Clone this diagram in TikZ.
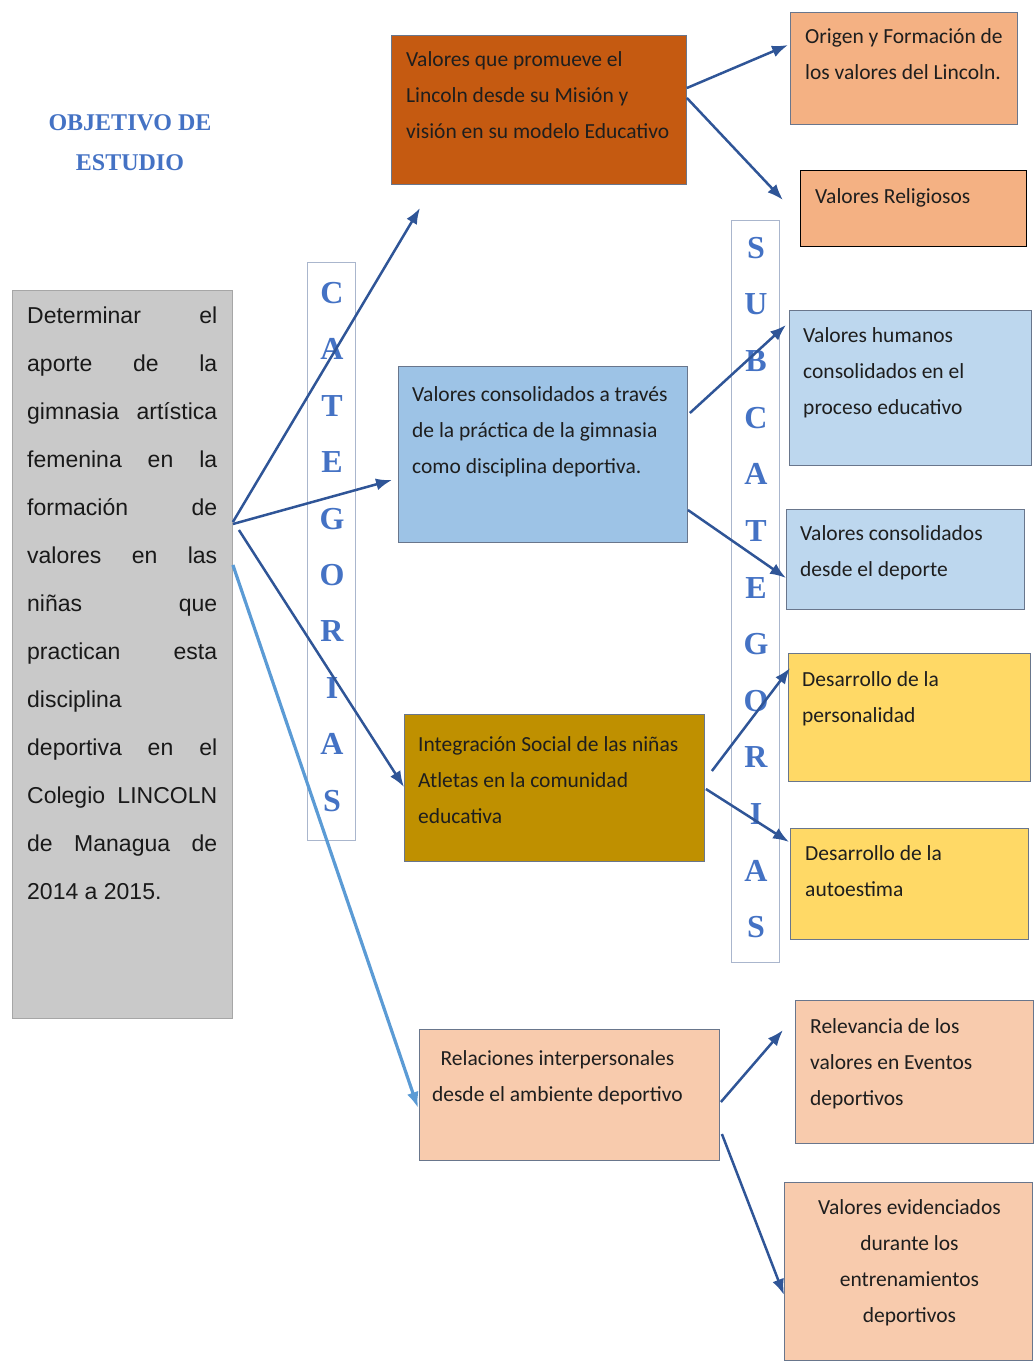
\documentclass[tikz,border=0pt]{standalone}
\usepackage{fontspec}
\usepackage{xcolor}
\usepackage{tikz}
\usetikzlibrary{positioning,arrows.meta}
\setmainfont{Carlito}
\newfontfamily\arialfont{Liberation Sans}
\newfontfamily\letrafont{Liberation Serif}
\definecolor{naranjaosc}{RGB}{197, 90, 17}
\definecolor{azulcaja}{RGB}{157, 195, 230}
\definecolor{azulpalido}{RGB}{189, 215, 238}
\definecolor{dorado}{RGB}{191, 144, 0}
\definecolor{durazno}{RGB}{248, 203, 173}
\definecolor{naranjaclaro}{RGB}{244, 177, 131}
\definecolor{amarillo}{RGB}{255, 217, 102}
\definecolor{grisfondo}{RGB}{201, 201, 201}
\definecolor{azultitulo}{RGB}{68, 114, 196}
\definecolor{azulflecha}{RGB}{47, 85, 151}
\definecolor{azulceleste}{RGB}{91, 155, 213}
\definecolor{bordecaja}{RGB}{105, 118, 140}
\definecolor{bordemarco}{RGB}{170, 182, 205}
\definecolor{textoosc}{RGB}{30, 30, 30}
\newcommand{\renglon}[1]{\makebox[190pt][s]{#1}}

\begin{document}
\begin{tikzpicture}[x=1pt, y=-1pt,
    caja/.style={draw=bordecaja, line width=0.9pt, anchor=north west, inner sep=0pt},
    texto/.style={anchor=north west, inner sep=0pt, align=left, text=textoosc, font=\fontsize{21.5}{36}\selectfont},
    letra/.style={text=azultitulo, inner sep=0pt, font=\letrafont\bfseries\fontsize{32}{32}\selectfont},
    marco/.style={draw=bordemarco, line width=0.7pt, anchor=north west, minimum width=48, minimum height=#1},
    flecha/.style={draw=azulflecha, line width=2.5pt, -{Latex[length=16pt,width=12pt]}}
  ]
  \useasboundingbox (0,0) rectangle (1034,1367);

  \node[text=azultitulo, align=center, font=\letrafont\bfseries\fontsize{24}{40}\selectfont] (titulo) at (130,143) {OBJETIVO DE\\ESTUDIO};

  \node[caja, draw=gray!70, fill=grisfondo, minimum width=220, minimum height=728] (gris) at (12,290) {};
  \node[texto, text=black!90, font=\arialfont\fontsize{23}{48}\selectfont, below right=16.5pt and 15pt of gris.north west] (objetivo) {%
    \renglon{Determinar el}\\ \renglon{aporte de la}\\ \renglon{gimnasia artística}\\ \renglon{femenina en la}\\
    \renglon{formación de}\\ \renglon{valores en las}\\ \renglon{niñas que}\\ \renglon{practican esta}\\
    disciplina\\ \renglon{deportiva en el}\\ \renglon{Colegio LINCOLN}\\ \renglon{de Managua de}\\ 2014 a 2015.};

  \node[marco=578] (categorias) at (307,262) {};
  \foreach \l [count=\i] in {C,A,T,E,G,O,R,I,A,S}
    \node[letra] (cat\i) at (332,{293+56.4*(\i-1)}) {\l};
  \node[marco=742] (subcategorias) at (731,220) {};
  \foreach \l [count=\i] in {S,U,B,C,A,T,E,G,O,R,I,A,S}
    \node[letra] (sub\i) at (756,{248+56.6*(\i-1)}) {\l};

  \node[caja, fill=naranjaosc, minimum width=295, minimum height=149] (c1) at (391,35) {};
  \node[texto, below right=16.4pt and 15pt of c1.north west] (t1) {Valores que promueve el\\Lincoln desde su Misión y\\visión en su modelo Educativo};
  \node[caja, fill=azulcaja, minimum width=289, minimum height=176] (c2) at (398,366) {};
  \node[texto, below right=20.4pt and 14pt of c2.north west] (t2) {Valores consolidados a través\\de la práctica de la gimnasia\\como disciplina deportiva.};
  \node[caja, fill=dorado, minimum width=300, minimum height=147] (c3) at (404,714) {};
  \node[texto, below right=22pt and 14pt of c3.north west] (t3) {Integración Social de las niñas\\Atletas en la comunidad\\educativa};
  \node[caja, fill=durazno, minimum width=300, minimum height=131] (c4) at (419,1029) {};
  \node[texto, align=center, below=21.4pt of c4.north, xshift=-12pt] (t4) {Relaciones interpersonales\\desde el ambiente deportivo};

  \node[caja, fill=naranjaclaro, minimum width=227, minimum height=112] (r1) at (790,12) {};
  \node[texto, below right=16.4pt and 15pt of r1.north west] (s1) {Origen y Formación de\\los valores del Lincoln.};
  \node[caja, draw=black, line width=1.4pt, fill=naranjaclaro, minimum width=226, minimum height=76] (r2) at (800,170) {};
  \node[texto, below right=18.4pt and 15pt of r2.north west] (s2) {Valores Religiosos};
  \node[caja, fill=azulpalido, minimum width=242, minimum height=155] (r3) at (789,310) {};
  \node[texto, below right=17.4pt and 14pt of r3.north west] (s3) {Valores humanos\\consolidados en el\\proceso educativo};
  \node[caja, fill=azulpalido, minimum width=238, minimum height=100] (r4) at (786,509) {};
  \node[texto, below right=16.4pt and 14pt of r4.north west] (s4) {Valores consolidados\\desde el deporte};
  \node[caja, fill=amarillo, minimum width=242, minimum height=128] (r5) at (788,653) {};
  \node[texto, below right=18.4pt and 14pt of r5.north west] (s5) {Desarrollo de la\\personalidad};
  \node[caja, fill=amarillo, minimum width=238, minimum height=111] (r6) at (790,828) {};
  \node[texto, below right=17.4pt and 15pt of r6.north west] (s6) {Desarrollo de la\\autoestima};
  \node[caja, fill=durazno, minimum width=238, minimum height=143] (r7) at (795,1000) {};
  \node[texto, below right=18.4pt and 15pt of r7.north west] (s7) {Relevancia de los\\valores en Eventos\\deportivos};
  \node[caja, fill=durazno, minimum width=248, minimum height=178] (r8) at (784,1182) {};
  \node[texto, align=center, below=17.4pt of r8.north, xshift=1pt] (s8) {Valores evidenciados\\durante los\\entrenamientos\\deportivos};

  \coordinate (libre) at (420,208);
  \draw[flecha] ([shift={(0,232)}]gris.north east) -- (libre);
  \draw[flecha] ([shift={(0,234)}]gris.north east) -- ([shift={(-6,114)}]c2.north west);
  \draw[flecha] ([shift={(6,240)}]gris.north east) -- ([shift={(0,73)}]c3.north west);
  \draw[flecha, draw=azulceleste, line width=3.2pt] ([shift={(0,275)}]gris.north east) -- ([shift={(-1,79)}]c4.north west);

  \draw[flecha] ([shift={(0,53)}]c1.north east) -- ([shift={(-2,33)}]r1.north west);
  \draw[flecha] ([shift={(0,63)}]c1.north east) -- ([shift={(-17,30)}]r2.north west);
  \draw[flecha] ([shift={(2,47)}]c2.north east) -- ([shift={(-3,15)}]r3.north west);
  \draw[flecha] ([shift={(0,144)}]c2.north east) -- ([shift={(0,69)}]r4.north west);
  \draw[flecha] ([shift={(7,57)}]c3.north east) -- ([shift={(2,15)}]r5.north west);
  \draw[flecha] ([shift={(1,75)}]c3.north east) -- ([shift={(-1,14)}]r6.north west);
  \draw[flecha] ([shift={(1,73)}]c4.north east) -- ([shift={(-12,30)}]r7.north west);
  \draw[flecha] ([shift={(2,105)}]c4.north east) -- ([shift={(0,113)}]r8.north west);
\end{tikzpicture}
\end{document}
